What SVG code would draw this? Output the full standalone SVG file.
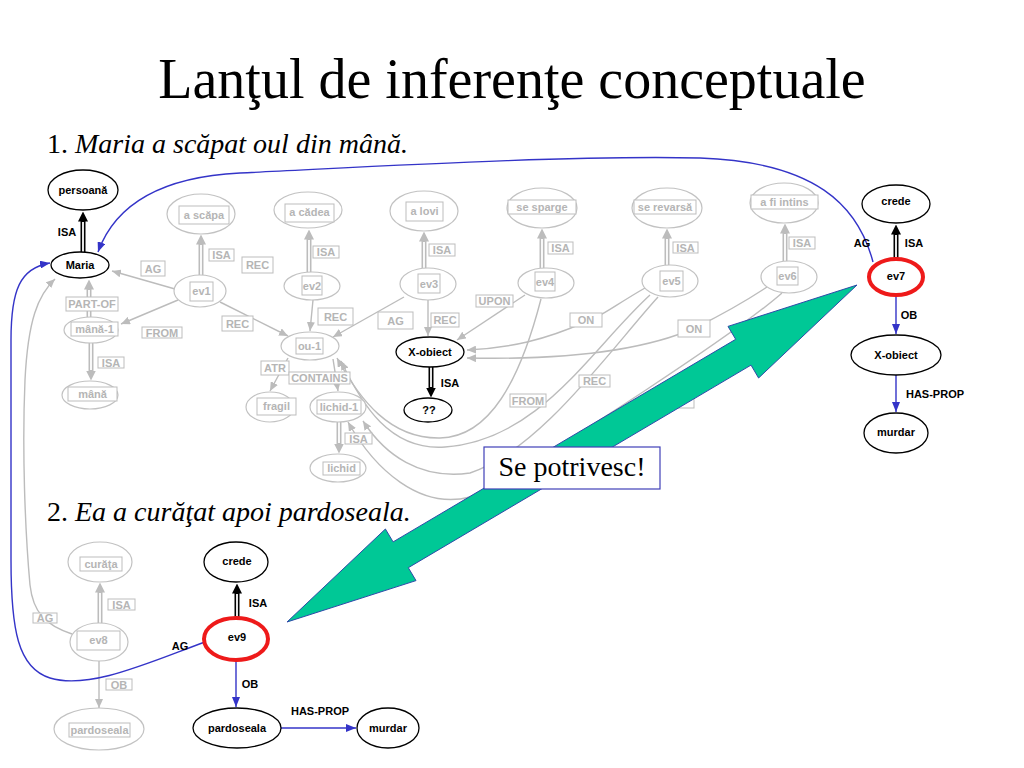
<svg xmlns="http://www.w3.org/2000/svg" width="1024" height="768" viewBox="0 0 1024 768">
<defs>
<style>
.gn ellipse{fill:#fff;stroke:#c2c2c2;stroke-width:1.2}
.gn rect,.gl rect{fill:#fff;stroke:#bdbdbd;stroke-width:1}
.gt{font-family:"Liberation Sans",Arial,sans-serif;font-weight:bold;font-size:11px;fill:#b5b5b5;text-anchor:middle}
.bt{font-family:"Liberation Sans",Arial,sans-serif;font-weight:bold;font-size:11px;fill:#000;text-anchor:middle}
.bn ellipse{fill:#fff;stroke:#000;stroke-width:1.3}
.bn ellipse.red{stroke:#ee1a1a;stroke-width:4}
.ge{fill:none;stroke:#bcbcbc;stroke-width:1.4;marker-end:url(#mg)}
.be{fill:none;stroke:#3434c8;stroke-width:1.4;marker-end:url(#mb)}
.gdo{fill:none;stroke:#bcbcbc;stroke-width:5;marker-end:url(#mgd)}
.kdo{fill:none;stroke:#000;stroke-width:5;marker-end:url(#mkd)}
.di{fill:none;stroke:#fff;stroke-width:1.8}
.serif{font-family:"Liberation Serif","Times New Roman",serif;fill:#000}
</style>
<marker id="mg" markerWidth="9" markerHeight="8" refX="9" refY="4" orient="auto" markerUnits="userSpaceOnUse"><path d="M0,0 L9,4 L0,8 z" fill="#bcbcbc"/></marker>
<marker id="mb" markerWidth="10" markerHeight="8" refX="10" refY="4" orient="auto" markerUnits="userSpaceOnUse"><path d="M0,0 L10,4 L0,8 z" fill="#3434c8"/></marker>
<marker id="mgd" markerWidth="10" markerHeight="10" refX="0.5" refY="5" orient="auto" markerUnits="userSpaceOnUse"><path d="M0,0 L10,5 L0,10 z" fill="#bcbcbc"/></marker>
<marker id="mkd" markerWidth="10" markerHeight="10" refX="0.5" refY="5" orient="auto" markerUnits="userSpaceOnUse"><path d="M0,0 L10,5 L0,10 z" fill="#000"/></marker>
</defs>
<rect width="1024" height="768" fill="#fff"/>

<g id="titles">
<text class="serif" x="512" y="98" font-size="56" text-anchor="middle">Lanţul de inferenţe conceptuale</text>
<text class="serif" x="47" y="153" font-size="28">1. <tspan font-style="italic">Maria a scăpat oul din mână.</tspan></text>
<text class="serif" x="47" y="521" font-size="28">2. <tspan font-style="italic">Ea a curăţat apoi pardoseala.</tspan></text>
</g>

<g id="connectors">
<!-- gray single edges -->
<path class="ge" d="M175,289 L112,271"/>
<path class="ge" d="M178,300 L121,324"/>
<path class="ge" d="M220,302 L288,336"/>
<path class="ge" d="M313,300 L310,331"/>
<path class="ge" d="M404,297 L333,337"/>
<path class="ge" d="M428,300 L428,336"/>
<path class="ge" d="M525,295 L457,340"/>
<path class="ge" d="M288,358 L270,391"/>
<path class="ge" d="M333,359 L338,391"/>
<path class="ge" d="M645,288 C615,305 600,318 585,322 C545,340 510,348 467,350"/>
<path class="ge" d="M767,287 C740,305 715,318 695,328 C640,352 560,360 467,358"/>
<path class="ge" d="M541,299 C520,380 490,437 440,438 C390,439 360,400 337,358"/>
<path class="ge" d="M650,295 C590,350 540,440 445,447 C390,451 362,405 341,361"/>
<path class="ge" d="M658,297 C610,350 540,450 470,473 C420,480 385,455 363,421"/>
<path class="ge" d="M782,293 C740,330 560,450 470,497 C420,510 375,470 348,422"/>
<path class="ge" d="M99,661 L99,708"/>
<path class="ge" d="M72,634 C45,625 33,612 30,585 C25,530 22,450 25,380 C28,320 38,295 55,279"/>
<!-- gray double edges -->
<path class="gdo" d="M201,275 L201,244"/><path class="di" d="M201,275 L201,245"/>
<path class="gdo" d="M89,317 L89,289"/><path class="di" d="M89,317 L89,290"/>
<path class="gdo" d="M91,343 L91,371"/><path class="di" d="M91,343 L91,370"/>
<path class="gdo" d="M309,272 L309,239"/><path class="di" d="M309,272 L309,240"/>
<path class="gdo" d="M424,268 L424,241"/><path class="di" d="M424,268 L424,242"/>
<path class="gdo" d="M542,268 L542,238"/><path class="di" d="M542,268 L542,239"/>
<path class="gdo" d="M667,265 L667,238"/><path class="di" d="M667,265 L667,239"/>
<path class="gdo" d="M785,261 L785,233"/><path class="di" d="M785,261 L785,234"/>
<path class="gdo" d="M339,422 L339,444"/><path class="di" d="M339,422 L339,443"/>
<path class="gdo" d="M100,623 L100,592"/><path class="di" d="M100,623 L100,593"/>
<!-- black double edges -->
<path class="kdo" d="M83,252 L83,221"/><path class="di" d="M83,252 L83,222"/>
<path class="kdo" d="M896,259 L896,234"/><path class="di" d="M896,259 L896,235"/>
<path class="kdo" d="M431,367 L431,388"/><path class="di" d="M431,367 L431,387"/>
<path class="kdo" d="M237,618 L237,593"/><path class="di" d="M237,618 L237,594"/>
<!-- blue edges -->
<path class="be" d="M873,262 C858,205 815,162 700,158 C560,155 350,168 240,173 C160,177 115,205 98,252"/>
<path class="be" d="M205,642 C150,662 90,690 50,678 C18,668 11,630 11,560 L11,340 C11,290 20,268 50,263"/>
<path class="be" d="M896,295 L896,334"/>
<path class="be" d="M896,375 L896,412"/>
<path class="be" d="M236,660 L236,707"/>
<path class="be" d="M281,728 L356,728"/>
</g>

<g id="edge-labels">
<g class="gl">
<rect x="209" y="249" width="25" height="12"/><text class="gt" x="221.5" y="259">ISA</text>
<rect x="242" y="257" width="31" height="16"/><text class="gt" x="257.5" y="269">REC</text>
<rect x="141" y="261" width="24" height="15"/><text class="gt" x="153" y="272.5">AG</text>
<rect x="142" y="327" width="40" height="11"/><text class="gt" x="162" y="336.5">FROM</text>
<rect x="222" y="316" width="31" height="15"/><text class="gt" x="237.5" y="327.5">REC</text>
<rect x="66" y="297" width="52" height="14"/><text class="gt" x="92" y="308">PART-OF</text>
<rect x="98" y="357" width="26" height="11"/><text class="gt" x="111" y="366.5">ISA</text>
<rect x="313" y="246" width="26" height="12"/><text class="gt" x="326" y="256">ISA</text>
<rect x="318" y="308" width="35" height="17"/><text class="gt" x="335.5" y="320.5">REC</text>
<rect x="378" y="312" width="35" height="17"/><text class="gt" x="395.5" y="324.5">AG</text>
<rect x="261" y="361" width="28" height="14"/><text class="gt" x="275" y="372">ATR</text>
<rect x="289" y="372" width="61" height="12"/><text class="gt" x="319.5" y="382">CONTAINS</text>
<rect x="345" y="433" width="27" height="11"/><text class="gt" x="358.5" y="442.5">ISA</text>
<rect x="429" y="244" width="26" height="12"/><text class="gt" x="442" y="254">ISA</text>
<rect x="431" y="313" width="28" height="14"/><text class="gt" x="445" y="324">REC</text>
<rect x="476" y="295" width="37" height="12"/><text class="gt" x="494.5" y="305">UPON</text>
<rect x="548" y="242" width="25" height="12"/><text class="gt" x="560.5" y="252">ISA</text>
<rect x="570" y="313" width="32" height="14"/><text class="gt" x="586" y="324">ON</text>
<rect x="510" y="394" width="36" height="13"/><text class="gt" x="528" y="404.5">FROM</text>
<rect x="579" y="375" width="31" height="12"/><text class="gt" x="594.5" y="385">REC</text>
<rect x="673" y="242" width="25" height="11"/><text class="gt" x="685.5" y="251.5">ISA</text>
<rect x="678" y="320" width="32" height="17"/><text class="gt" x="694" y="332.5">ON</text>
<rect x="789" y="237" width="26" height="12"/><text class="gt" x="802" y="247">ISA</text>
<rect x="655" y="396" width="39" height="12"/>
<rect x="108" y="599" width="27" height="11"/><text class="gt" x="121.5" y="608.5">ISA</text>
<rect x="33" y="613" width="24" height="10"/><text class="gt" x="45" y="622">AG</text>
<rect x="106" y="679" width="26" height="11"/><text class="gt" x="119" y="688.5">OB</text>
</g>
<text class="bt" x="67" y="236">ISA</text>
<text class="bt" x="914" y="247">ISA</text>
<text class="bt" x="862" y="247">AG</text>
<text class="bt" x="909" y="319">OB</text>
<text class="bt" x="935" y="398">HAS-PROP</text>
<text class="bt" x="450" y="387">ISA</text>
<text class="bt" x="258" y="607">ISA</text>
<text class="bt" x="180" y="650">AG</text>
<text class="bt" x="250" y="688">OB</text>
<text class="bt" x="320" y="715">HAS-PROP</text>
</g>

<g id="gray-nodes">
<g id="n-ascapa" class="gn"><ellipse cx="201" cy="214" rx="34" ry="20"/><rect x="179" y="206" width="50" height="18"/><text class="gt" x="204" y="219">a scăpa</text></g>
<g id="n-ev1" class="gn"><ellipse cx="200" cy="291" rx="26" ry="16"/><rect x="190" y="282" width="23" height="19"/><text class="gt" x="201.5" y="295">ev1</text></g>
<g id="n-acadea" class="gn"><ellipse cx="308" cy="210" rx="34" ry="18"/><rect x="285" y="204" width="49" height="18"/><text class="gt" x="309.5" y="216">a cădea</text></g>
<g id="n-ev2" class="gn"><ellipse cx="312" cy="286" rx="28" ry="14"/><rect x="302" y="276" width="20" height="19"/><text class="gt" x="312" y="290">ev2</text></g>
<g id="n-alovi" class="gn"><ellipse cx="424" cy="211" rx="34" ry="20"/><rect x="406" y="202" width="37" height="19"/><text class="gt" x="424.5" y="215">a lovi</text></g>
<g id="n-ev3" class="gn"><ellipse cx="428" cy="284" rx="28" ry="16"/><rect x="418" y="274" width="22" height="19"/><text class="gt" x="429" y="288">ev3</text></g>
<g id="n-sesparge" class="gn"><ellipse cx="542" cy="208" rx="35" ry="20"/><rect x="508" y="200" width="68" height="14"/><text class="gt" x="542" y="211">se sparge</text></g>
<g id="n-ev4" class="gn"><ellipse cx="546" cy="283" rx="28" ry="15"/><rect x="535" y="272" width="20" height="19"/><text class="gt" x="545" y="286">ev4</text></g>
<g id="n-serevarsa" class="gn"><ellipse cx="667" cy="208" rx="35" ry="20"/><rect x="634" y="200" width="62" height="14"/><text class="gt" x="665" y="211">se revarsă</text></g>
<g id="n-ev5" class="gn"><ellipse cx="670" cy="281" rx="28" ry="16"/><rect x="660" y="271" width="23" height="20"/><text class="gt" x="671.5" y="285">ev5</text></g>
<g id="n-afiintins" class="gn"><ellipse cx="784" cy="203" rx="34" ry="20"/><rect x="751" y="195" width="67" height="14"/><text class="gt" x="784.5" y="206">a fi intins</text></g>
<g id="n-ev6" class="gn"><ellipse cx="789" cy="277" rx="28" ry="16"/><rect x="777" y="267" width="21" height="18"/><text class="gt" x="787.5" y="280">ev6</text></g>
<g id="n-mana1" class="gn"><ellipse cx="91" cy="330" rx="27" ry="13"/><rect x="71" y="322" width="47" height="14"/><text class="gt" x="94.5" y="333">mână-1</text></g>
<g id="n-mana" class="gn"><ellipse cx="90" cy="395" rx="28" ry="14"/><rect x="68" y="387" width="49" height="14"/><text class="gt" x="92.5" y="398">mână</text></g>
<g id="n-ou1" class="gn"><ellipse cx="310" cy="346" rx="29" ry="14"/><rect x="296" y="338" width="27" height="16"/><text class="gt" x="309.5" y="350">ou-1</text></g>
<g id="n-fragil" class="gn"><ellipse cx="270" cy="407" rx="24" ry="15"/><rect x="257" y="398" width="39" height="17"/><text class="gt" x="276.5" y="410">fragil</text></g>
<g id="n-lichid1" class="gn"><ellipse cx="338" cy="407" rx="28" ry="15"/><rect x="317" y="400" width="44" height="14"/><text class="gt" x="339" y="411">lichid-1</text></g>
<g id="n-lichid" class="gn"><ellipse cx="338" cy="468" rx="28" ry="14"/><rect x="323" y="462" width="37" height="13"/><text class="gt" x="341.5" y="472">lichid</text></g>
<g id="n-curata" class="gn"><ellipse cx="100" cy="562" rx="32" ry="20"/><rect x="80" y="557" width="42" height="14"/><text class="gt" x="101" y="568">curăţa</text></g>
<g id="n-ev8" class="gn"><ellipse cx="99" cy="642" rx="29" ry="19"/><rect x="77" y="631" width="43" height="19"/><text class="gt" x="98.5" y="644">ev8</text></g>
<g id="n-pardoseala-g" class="gn"><ellipse cx="99" cy="729" rx="45" ry="21"/><rect x="69" y="723" width="61" height="14"/><text class="gt" x="99.5" y="734">pardoseala</text></g>
</g>

<g id="match-arrow">
<polygon points="287,622 385.4,529 393.1,541.9 735.7,339.3 728,326.4 857,285 758.6,378 751,365.1 408.3,567.7 416,580.6" fill="#00c896" stroke="#2d4aa8" stroke-width="1"/>
</g>
<g id="match-label">
<rect x="484" y="447" width="176" height="42" fill="#fff" stroke="#4040b8" stroke-width="1.2"/>
<text class="serif" x="572" y="476" font-size="28" text-anchor="middle">Se potrivesc!</text>
</g>

<g id="black-nodes">
<g id="n-persoana" class="bn"><ellipse cx="83" cy="190" rx="35" ry="20"/><text class="bt" x="83" y="194">persoană</text></g>
<g id="n-maria" class="bn"><ellipse cx="80" cy="265" rx="29" ry="13"/><text class="bt" x="80" y="269">Maria</text></g>
<g id="n-xobiect1" class="bn"><ellipse cx="430" cy="352" rx="34" ry="15"/><text class="bt" x="430" y="356">X-obiect</text></g>
<g id="n-qq" class="bn"><ellipse cx="428" cy="410" rx="24" ry="12"/><text class="bt" x="429" y="414">??</text></g>
<g id="n-crede1" class="bn"><ellipse cx="896" cy="204" rx="34" ry="19"/><text class="bt" x="896" y="205">crede</text></g>
<g id="n-ev7" class="bn"><ellipse class="red" cx="896" cy="277" rx="27" ry="18"/><text class="bt" x="896" y="280">ev7</text></g>
<g id="n-xobiect2" class="bn"><ellipse cx="896" cy="355" rx="45" ry="20"/><text class="bt" x="896" y="359">X-obiect</text></g>
<g id="n-murdar1" class="bn"><ellipse cx="896" cy="433" rx="32" ry="20"/><text class="bt" x="896" y="436">murdar</text></g>
<g id="n-crede2" class="bn"><ellipse cx="236" cy="562" rx="32" ry="20"/><text class="bt" x="237" y="565">crede</text></g>
<g id="n-ev9" class="bn"><ellipse class="red" cx="236" cy="639" rx="32" ry="21"/><text class="bt" x="237" y="641">ev9</text></g>
<g id="n-pardoseala" class="bn"><ellipse cx="237" cy="728" rx="44" ry="20"/><text class="bt" x="237" y="732">pardoseala</text></g>
<g id="n-murdar2" class="bn"><ellipse cx="388" cy="728" rx="31" ry="20"/><text class="bt" x="388" y="732">murdar</text></g>
</g>
</svg>
